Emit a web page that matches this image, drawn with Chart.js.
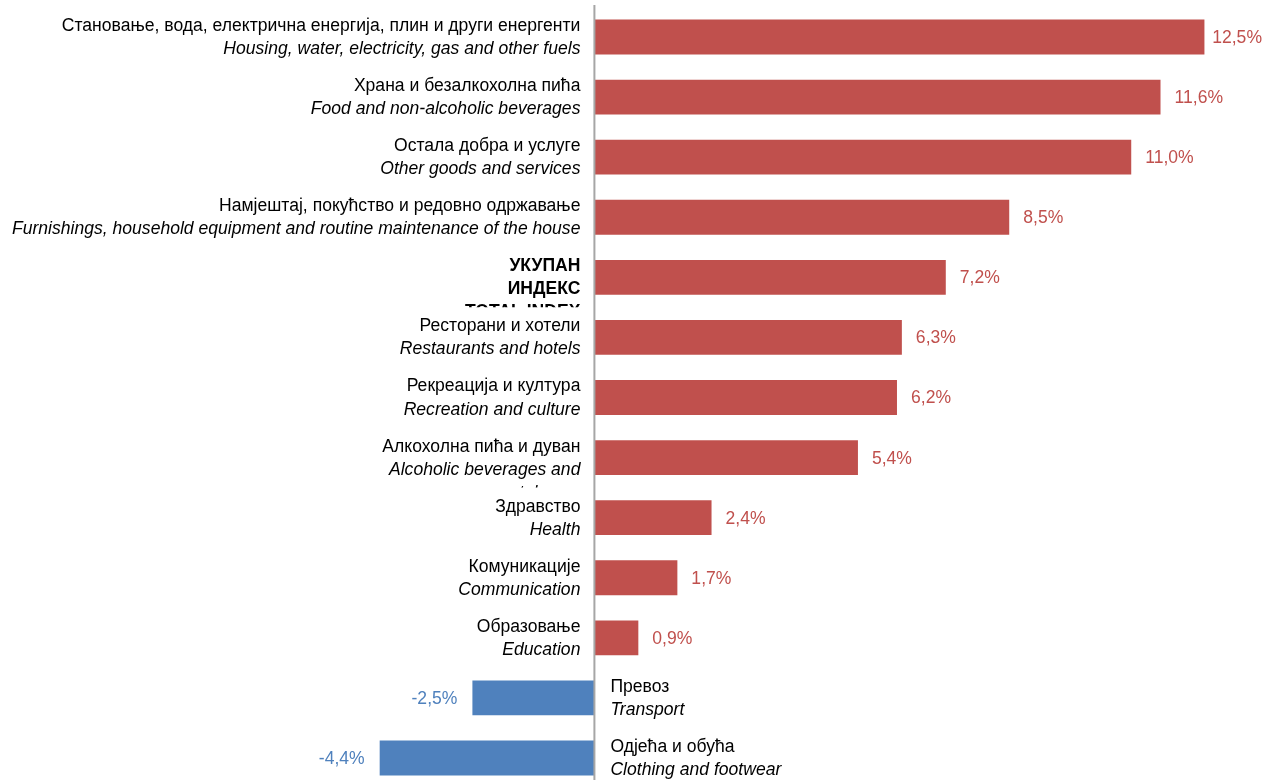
<!DOCTYPE html>
<html>
  <head>
    <meta charset="UTF-8">
    <title>Индекс потрошачких цијена</title>
    <script src="https://cdn.jsdelivr.net/npm/chart.js"></script>
    <style>
      body { margin: 0; overflow: hidden; background: #fff; }
      #wrap { width: 1263px; height: 788px; }
    </style>
  </head>
  <body>
    <div id="wrap"><canvas id="cpiChart"></canvas></div>
    <script>
      const labelsSr = [
        'Становање, вода, електрична енергија, плин и други енергенти',
        'Храна и безалкохолна пића',
        'Остала добра и услуге',
        'Намјештај, покућство и редовно одржавање',
        'УКУПАН ИНДЕКС',
        'Ресторани и хотели',
        'Рекреација и култура',
        'Алкохолна пића и дуван',
        'Здравство',
        'Комуникације',
        'Образовање',
        'Превоз',
        'Одјећа и обућа'
      ];
      const labelsEn = [
        'Housing, water, electricity, gas and other fuels',
        'Food and non-alcoholic beverages',
        'Other goods and services',
        'Furnishings, household equipment and routine maintenance of the house',
        'TOTAL INDEX',
        'Restaurants and hotels',
        'Recreation and culture',
        'Alcoholic beverages and tobacco',
        'Health',
        'Communication',
        'Education',
        'Transport',
        'Clothing and footwear'
      ];
      const changes = [12.5, 11.6, 11.0, 8.5, 7.2, 6.3, 6.2, 5.4, 2.4, 1.7, 0.9, -2.5, -4.4];

      const FONT = '"Liberation Sans Narrow", "Arial Narrow", "Liberation Sans", sans-serif';
      const RED = '#C0504D';
      const BLUE = '#4F81BD';
      const SQUEEZE = 0.976; // the original font is a bit narrower

      // wrapped (and clipped) labels as in the original text boxes
      function labelLines(i) {
        if (labelsSr[i] === 'УКУПАН ИНДЕКС') {
          return { lines: ['УКУПАН', 'ИНДЕКС', labelsEn[i]], bold: true };
        }
        if (labelsEn[i] === 'Alcoholic beverages and tobacco') {
          return { lines: [labelsSr[i], 'Alcoholic beverages and', 'tobacco'], bold: false };
        }
        return { lines: [labelsSr[i], labelsEn[i]], bold: false };
      }

      function narrowText(ctx, text, x, y) {
        ctx.save();
        ctx.translate(x, y);
        ctx.scale(SQUEEZE, 1);
        ctx.fillText(text, 0, 0);
        ctx.restore();
      }

      const labelPlugin = {
        id: 'labelPlugin',
        afterDatasetsDraw(chart) {
          const ctx = chart.ctx;
          const x = chart.scales.x;
          const x0 = x.getPixelForValue(0);

          // zero axis
          ctx.save();
          ctx.strokeStyle = '#A6A6A6';
          ctx.lineWidth = 2;
          ctx.beginPath();
          ctx.moveTo(x0, 5);
          ctx.lineTo(x0, chart.height);
          ctx.stroke();
          ctx.restore();

          const meta = chart.getDatasetMeta(0);
          changes.forEach((v, i) => {
            const bar = meta.data[i];
            const cy = bar.y;
            const pos = v >= 0;

            // value label
            ctx.save();
            ctx.font = '18px ' + FONT;
            ctx.fillStyle = pos ? RED : BLUE;
            ctx.textBaseline = 'middle';
            const txt = v.toFixed(1).replace('.', ',') + '%';
            const w = ctx.measureText(txt).width * SQUEEZE;
            let tx = pos ? bar.x + 14 : bar.x - 15 - w;
            if (tx + w > chart.width - 1) tx = chart.width - 1 - w;
            ctx.textAlign = 'left';
            narrowText(ctx, txt, tx, cy + 1);
            ctx.restore();

            // category label
            const lab = labelLines(i);
            ctx.save();
            ctx.beginPath();
            ctx.rect(0, cy - 31, chart.width, 61);
            ctx.clip();
            ctx.fillStyle = '#000';
            ctx.textBaseline = 'middle';
            ctx.textAlign = pos ? 'right' : 'left';
            const lx = pos ? x0 - 14 : x0 + 16;
            lab.lines.forEach((line, k) => {
              if (lab.bold) {
                ctx.font = 'bold 18px ' + FONT;
              } else {
                ctx.font = (k === 0 ? '' : 'italic ') + '18px ' + FONT;
              }
              narrowText(ctx, line, lx, cy - 11 + k * 23);
            });
            ctx.restore();
          });
        }
      };

      new Chart(document.getElementById('cpiChart'), {
        type: 'bar',
        data: {
          labels: labelsEn,
          datasets: [{
            data: changes,
            backgroundColor: changes.map(v => v >= 0 ? RED : BLUE),
            barPercentage: 0.58,
            categoryPercentage: 1.0
          }]
        },
        options: {
          indexAxis: 'y',
          responsive: true,
          maintainAspectRatio: false,
          animation: false,
          layout: { padding: { top: 7, left: 0, right: 0, bottom: 0 } },
          scales: {
            x: { display: false, min: -12.18, max: 13.70 },
            y: { display: false }
          },
          plugins: {
            legend: { display: false },
            tooltip: { enabled: false }
          }
        },
        plugins: [labelPlugin]
      });
    </script>
  </body>
</html>
